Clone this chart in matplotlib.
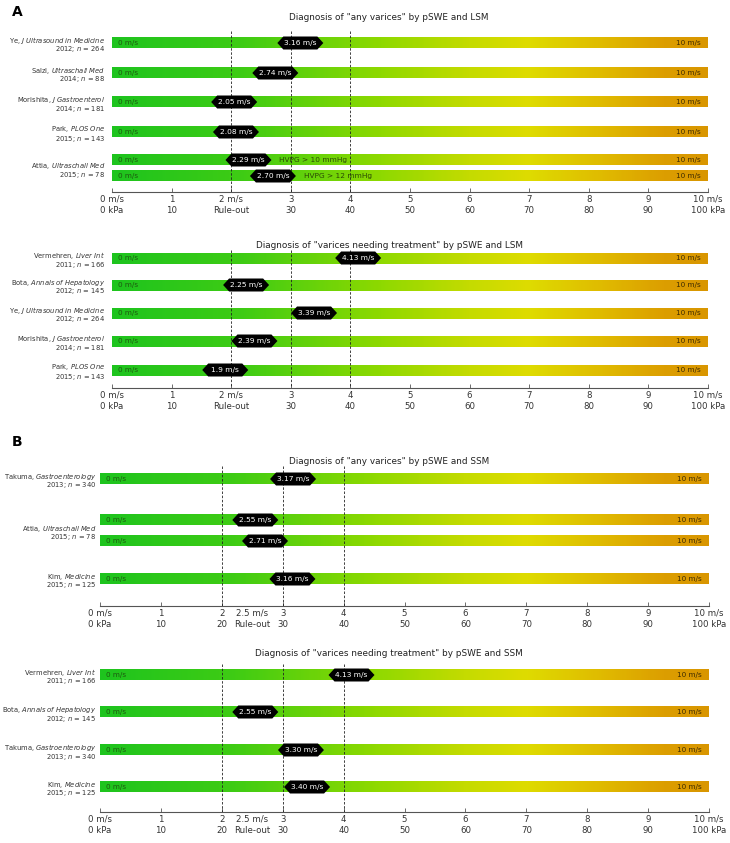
import numpy as np
import matplotlib
matplotlib.use('Agg')
import matplotlib.pyplot as plt
from matplotlib.colors import LinearSegmentedColormap
from matplotlib.patches import Polygon

plt.rcParams['font.family'] = ['DejaVu Sans']
plt.rcParams['mathtext.fontset'] = 'custom'
plt.rcParams['mathtext.rm'] = 'DejaVu Sans'
plt.rcParams['mathtext.it'] = 'DejaVu Sans:italic'

# ---- data ----
a1_authors = ['Ye', 'Salzl', 'Morishita', 'Park', 'Attia']
a1_journals = ['J Ultrasound in Medicine', 'Ultraschall Med', 'J Gastroenterol', 'PLOS One', 'Ultraschall Med']
a1_years = ['2012', '2014', '2014', '2015', '2015']
a1_n = [264, 88, 181, 143, 78]
a1_study = [0, 1, 2, 3, 4, 4]
a1_values = ['3.16', '2.74', '2.05', '2.08', '2.29', '2.70']
a1_notes = ['', '', '', '', 'HVPG > 10 mmHg', 'HVPG > 12 mmHg']

a2_authors = ['Vermehren', 'Bota', 'Ye', 'Morishita', 'Park']
a2_journals = ['Liver Int', 'Annals of Hepatology', 'J Ultrasound in Medicine', 'J Gastroenterol', 'PLOS One']
a2_years = ['2011', '2012', '2012', '2014', '2015']
a2_n = [166, 145, 264, 181, 143]
a2_study = [0, 1, 2, 3, 4]
a2_values = ['4.13', '2.25', '3.39', '2.39', '1.9']
a2_notes = ['', '', '', '', '']

b1_authors = ['Takuma', 'Attia', 'Kim']
b1_journals = ['Gastroenterology', 'Ultraschall Med', 'Medicine']
b1_years = ['2013', '2015', '2015']
b1_n = [340, 78, 125]
b1_study = [0, 1, 1, 2]
b1_values = ['3.17', '2.55', '2.71', '3.16']
b1_notes = ['', '', '', '']

b2_authors = ['Vermehren', 'Bota', 'Takuma', 'Kim']
b2_journals = ['Liver Int', 'Annals of Hepatology', 'Gastroenterology', 'Medicine']
b2_years = ['2011', '2012', '2013', '2015']
b2_n = [166, 145, 340, 125]
b2_study = [0, 1, 2, 3]
b2_values = ['4.13', '2.55', '3.30', '3.40']
b2_notes = ['', '', '', '']

cutoffs = [2, 3, 4]
ticks = list(range(11))
a_ticklabels = ['0 m/s\n0 kPa', '1\n10', '2 m/s\nRule-out', '3\n30', '4\n40', '5\n50',
                '6\n60', '7\n70', '8\n80', '9\n90', '10 m/s\n100 kPa']
b_ticklabels = ['0 m/s\n0 kPa', '1\n10', '2\n20', '3\n30', '4\n40', '5\n50',
                '6\n60', '7\n70', '8\n80', '9\n90', '10 m/s\n100 kPa']
b_ruleout = 2.5

titles = ['Diagnosis of "any varices" by pSWE and LSM',
          'Diagnosis of "varices needing treatment" by pSWE and LSM',
          'Diagnosis of "any varices" by pSWE and SSM',
          'Diagnosis of "varices needing treatment" by pSWE and SSM']

# ---- layout (figure pixels, y from top) ----
W, H = 730, 843
fig = plt.figure(figsize=(W / 100, H / 100), dpi=100)

cmap = LinearSegmentedColormap.from_list('bar', [
    (0.0, '#1ec41e'), (0.22, '#3fcc14'), (0.45, '#8ed900'), (0.6, '#c4db00'),
    (0.7, '#dedc00'), (0.82, '#e0bc00'), (0.93, '#dc9e00'), (1.0, '#d99600')])
grad = np.linspace(0, 1, 300)[None, :]


def panel(x0, x1, title_y, dash_top, axis_y, rows, label_x,
          authors, journals, years, ns, study, values, notes, title, ticklabels, ruleout=None):
    ax = fig.add_axes([x0 / W, 1 - axis_y / H, (x1 - x0) / W, (axis_y - dash_top + 20) / H])
    ppu = (x1 - x0) / 10.0
    for yc, v, note in zip(rows, values, notes):
        ax.imshow(grad, extent=[0, 10, yc + 5.5, yc - 5.5], aspect='auto', cmap=cmap, zorder=1)
        ax.text(0.1, yc, '0 m/s', fontsize=5.2, color='#1d5a10', va='center', ha='left', zorder=2)
        ax.text(9.88, yc, '10 m/s', fontsize=5.2, color='#3d2a00', va='center', ha='right', zorder=2)
        val = float(v)
        hw = 23 / ppu
        d = 6 / ppu
        h = 6.5
        poly = Polygon([(val - hw, yc), (val - hw + d, yc - h), (val + hw - d, yc - h),
                        (val + hw, yc), (val + hw - d, yc + h), (val - hw + d, yc + h)],
                       closed=True, facecolor='black', edgecolor='none', zorder=4)
        ax.add_patch(poly)
        ax.text(val, yc, f'{v} m/s', fontsize=5.4, color='white', ha='center', va='center', zorder=5)
        if note:
            ax.text(val + hw + 8 / ppu, yc, note, fontsize=5.3, color='#2b4a05', ha='left',
                    va='center', zorder=5)
    ax.vlines(cutoffs, dash_top, axis_y, colors='#222222', linestyles=(0, (3, 2)),
              linewidth=0.6, zorder=3)
    ax.set_xlim(0, 10)
    ax.set_ylim(axis_y, dash_top - 20)
    for s in ['top', 'right', 'left']:
        ax.spines[s].set_visible(False)
    ax.spines['bottom'].set_color('#555555')
    ax.spines['bottom'].set_linewidth(0.8)
    ax.set_yticks([])
    ax.set_xticks(ticks)
    ax.set_xticklabels(ticklabels, fontsize=6.2, color='#333333', linespacing=1.35)
    ax.tick_params(axis='x', direction='in', length=3, width=0.6, color='#555555', pad=2)
    if ruleout is not None:
        ax.set_xticks([ruleout], minor=True)
        ax.set_xticklabels(['2.5 m/s\nRule-out'], minor=True, fontsize=6.2, color='#333333',
                           linespacing=1.35)
        ax.tick_params(axis='x', which='minor', direction='in', length=0, pad=2)
    ax.patch.set_alpha(0)

    for i in range(len(authors)):
        ys = [r for r, s in zip(rows, study) if s == i]
        yl = np.mean(ys) + 2
        j = journals[i].replace(' ', r'\ ')
        fig.text(label_x / W, 1 - (yl - 4.5) / H, f'{authors[i]}, $\\mathit{{{j}}}$',
                 fontsize=4.9, color='#333333', ha='right', va='center')
        fig.text(label_x / W, 1 - (yl + 4.5) / H, f'{years[i]}; $\\mathit{{n}}$ = {ns[i]}',
                 fontsize=4.9, color='#333333', ha='right', va='center')
    fig.text(389 / W, 1 - title_y / H, title, fontsize=6.4, color='#222222', ha='center', va='center')


panel(112, 708, 17, 31, 192, [43, 73, 102, 132, 160, 176], 105,
      a1_authors, a1_journals, a1_years, a1_n, a1_study, a1_values, a1_notes, titles[0], a_ticklabels)
panel(112, 708, 245, 250, 388, [258, 285, 313, 341, 370], 105,
      a2_authors, a2_journals, a2_years, a2_n, a2_study, a2_values, a2_notes, titles[1], a_ticklabels)
panel(100, 709, 462, 466, 606, [479, 520, 541, 579], 96,
      b1_authors, b1_journals, b1_years, b1_n, b1_study, b1_values, b1_notes, titles[2],
      b_ticklabels, b_ruleout)
panel(100, 709, 654, 664, 812, [675, 712, 750, 787], 96,
      b2_authors, b2_journals, b2_years, b2_n, b2_study, b2_values, b2_notes, titles[3],
      b_ticklabels, b_ruleout)

fig.text(12 / W, 1 - 12 / H, 'A', fontsize=10, fontweight='bold', ha='left', va='center')
fig.text(12 / W, 1 - 442 / H, 'B', fontsize=10, fontweight='bold', ha='left', va='center')

fig.savefig('out.png', dpi=100)
